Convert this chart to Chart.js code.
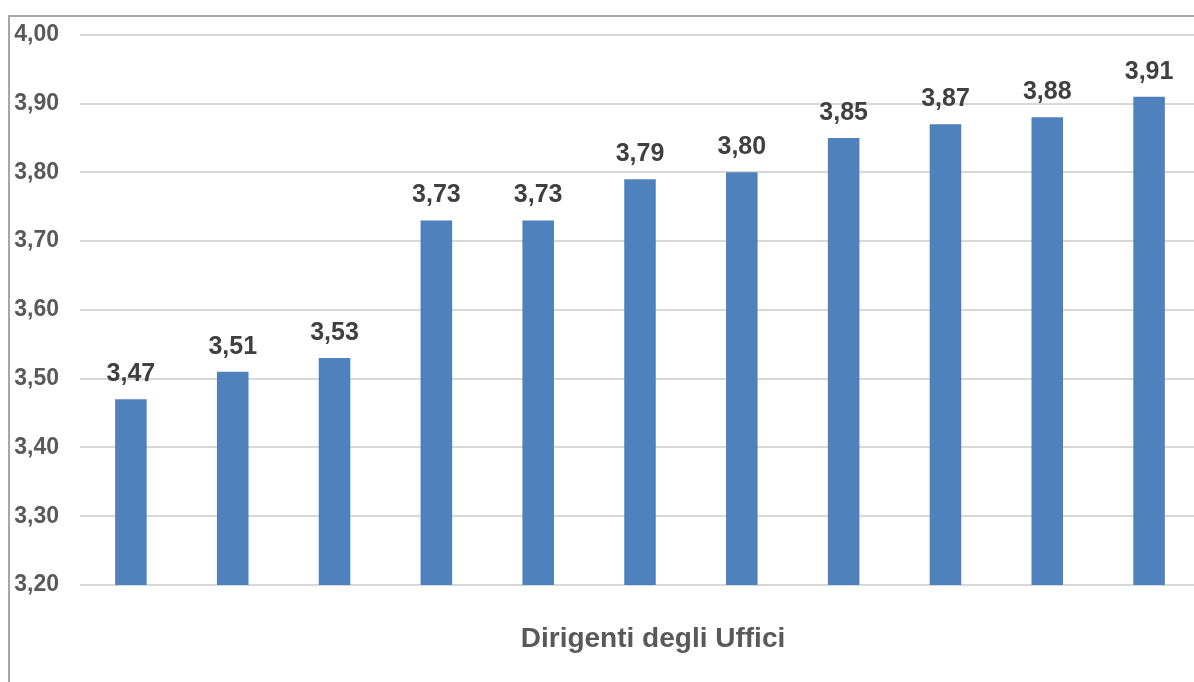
<!DOCTYPE html>
<html lang="it">
<head>
    <meta charset="UTF-8">
    <title>Dirigenti degli Uffici</title>
    <script src="https://cdn.jsdelivr.net/npm/chart.js@4.4.1/dist/chart.umd.min.js"></script>
    <style>
        html, body { margin: 0; padding: 0; background: #fff; overflow: hidden; width: 1194px; height: 682px; }
        .frame { position: absolute; left: 8px; top: 15px; width: 1300px; height: 800px;
                 border-left: 2px solid #a6a6a6; border-top: 2px solid #a6a6a6; }
        #chart { position: absolute; left: 0; top: 0; }
    </style>
</head>
<body>
    <div class="frame"></div>
    <canvas id="chart" width="1210" height="682"></canvas>

    <script>
        // values
        const categories = ['1', '2', '3', '4', '5', '6', '7', '8', '9', '10', '11'];
        const values = [3.47, 3.51, 3.53, 3.73, 3.73, 3.79, 3.80, 3.85, 3.87, 3.88, 3.91];
        const axisTitle = 'Dirigenti degli Uffici';

        const fmt = v => Number(v).toFixed(2).replace('.', ',');

        // numbers above the bars
        const valueLabels = {
            id: 'valueLabels',
            afterDatasetsDraw(chart) {
                const ctx = chart.ctx;
                const meta = chart.getDatasetMeta(0);
                ctx.save();
                ctx.font = 'bold 25px "Liberation Sans", Arial, sans-serif';
                ctx.fillStyle = '#404040';
                ctx.textAlign = 'center';
                ctx.textBaseline = 'alphabetic';
                meta.data.forEach((bar, i) => {
                    ctx.fillText(fmt(values[i]), bar.x, bar.y - 18);
                });
                ctx.restore();
            }
        };

        // category axis title (sits a bit right of centre in the original)
        const bottomTitle = {
            id: 'bottomTitle',
            afterDraw(chart) {
                const ctx = chart.ctx;
                ctx.save();
                ctx.font = 'bold 28px "Liberation Sans", Arial, sans-serif';
                ctx.fillStyle = '#595959';
                ctx.textAlign = 'center';
                ctx.textBaseline = 'alphabetic';
                ctx.fillText(axisTitle, 653, 647);
                ctx.restore();
            }
        };

        new Chart(document.getElementById('chart'), {
            type: 'bar',
            data: {
                labels: categories,
                datasets: [{
                    data: values,
                    backgroundColor: '#4f81bd',
                    borderWidth: 0,
                    barPercentage: 0.31,
                    categoryPercentage: 1
                }]
            },
            options: {
                responsive: false,
                animation: false,
                layout: { padding: { top: 33, bottom: 97, right: 10, left: 0 } },
                plugins: {
                    legend: { display: false },
                    tooltip: { enabled: false }
                },
                scales: {
                    x: { display: false },
                    y: {
                        min: 3.2,
                        max: 4.0,
                        border: { display: false },
                        grid: { color: '#d9d9d9', lineWidth: 2, drawTicks: false },
                        ticks: {
                            stepSize: 0.1,
                            padding: 21,
                            color: '#595959',
                            font: { family: '"Liberation Sans", Arial, sans-serif', size: 23, weight: 'bold' },
                            callback: v => fmt(v)
                        },
                        afterFit(scale) { scale.width = 80; }
                    }
                }
            },
            plugins: [valueLabels, bottomTitle]
        });
    </script>
</body>
</html>
